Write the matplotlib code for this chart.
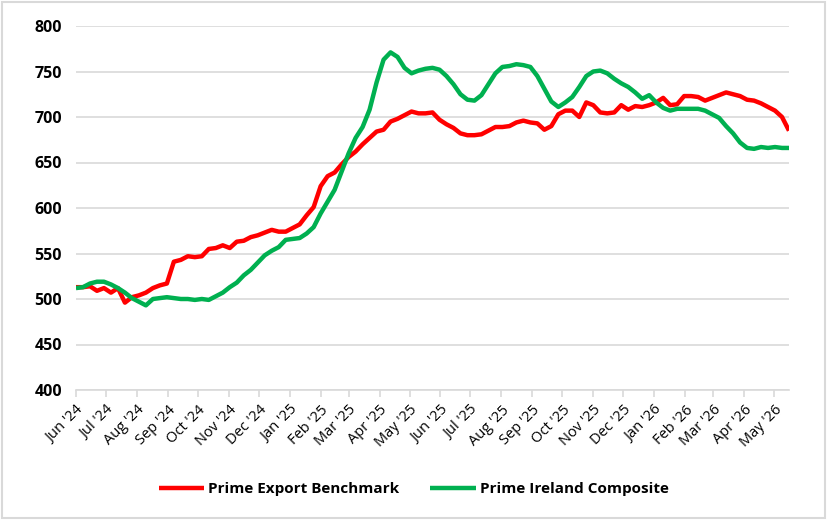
import matplotlib
matplotlib.use("Agg")
import matplotlib.pyplot as plt
import matplotlib.dates as mdates
import numpy as np
import pandas as pd
from matplotlib.patches import Rectangle

dates = pd.date_range("2024-06-01", periods=103, freq="7D")

export_benchmark = [
    513, 513, 514, 509, 512, 507, 512, 496, 502, 504,
    507, 512, 515, 517, 541, 543, 547, 546, 547, 555,
    556, 559, 556, 563, 564, 568, 570, 573, 576, 574,
    574, 578, 582, 592, 601, 624, 635, 639, 648, 656,
    662, 670, 677, 684, 686, 695, 698, 702, 706, 704,
    704, 705, 697, 692, 688, 682, 680, 680, 681, 685,
    689, 689, 690, 694, 696, 694, 693, 686, 690, 703,
    707, 707, 700, 716, 713, 705, 704, 705, 713, 708,
    712, 711, 713, 716, 721, 713, 714, 723, 723, 722,
    718, 721, 724, 727, 725, 723, 719, 718, 715, 711,
    707, 700, 685,
]
ireland_composite = [
    512, 513, 517, 519, 519, 516, 512, 507, 501, 497,
    493, 500, 501, 502, 501, 500, 500, 499, 500, 499,
    503, 507, 513, 518, 526, 532, 540, 548, 553, 557,
    565, 566, 567, 572, 579, 594, 607, 620, 640, 660,
    677, 689, 708, 738, 763, 771, 766, 754, 748, 751,
    753, 754, 752, 745, 736, 725, 719, 718, 724, 736,
    748, 755, 756, 758, 757, 755, 745, 731, 717, 711,
    716, 722, 733, 745, 750, 751, 748, 742, 737, 733,
    727, 720, 724, 716, 710, 707, 709, 709, 709, 709,
    707, 703, 699, 690, 682, 672, 666, 665, 667, 666,
    667, 666, 666,
]
series_names = ["Prime Export Benchmark", "Prime Ireland Composite"]
series_colors = ["#FF0000", "#00B050"]
yticks = [400, 450, 500, 550, 600, 650, 700, 750, 800]
month_ticks = pd.date_range("2024-06-01", "2026-05-01", freq="MS")
month_labels = [d.strftime("%b '%y") for d in month_ticks]

W, H = 827, 520
fig = plt.figure(figsize=(W / 100, H / 100), dpi=100)
ax = fig.add_axes([76 / W, 1 - 390 / H, (789 - 76) / W, (390 - 26) / H])

for vals, name, col in zip([export_benchmark, ireland_composite], series_names, series_colors):
    ax.plot(dates, vals, color=col, lw=3.2, label=name, solid_joinstyle="round", solid_capstyle="butt")

ax.set_ylim(400, 800)
ax.set_yticks(yticks)
ax.set_xlim(pd.Timestamp("2024-06-01"), dates[-1])
ax.set_xticks(month_ticks)
ax.set_xticklabels(month_labels, rotation=45, ha="right", va="top", rotation_mode="anchor",
                   fontsize=10.5, family="Open Sans")
for lab in ax.get_yticklabels():
    lab.set_fontweight("bold")
    lab.set_fontsize(11.5)
    lab.set_family("Open Sans")

ax.grid(axis="y", color="#D9D9D9", lw=1.2)
ax.set_axisbelow(True)
for s in ["top", "right", "left"]:
    ax.spines[s].set_visible(False)
ax.spines["bottom"].set_color("#D9D9D9")
ax.spines["bottom"].set_linewidth(1.2)
ax.tick_params(axis="y", length=0, pad=10)
ax.tick_params(axis="x", length=5, color="#D9D9D9", width=1.2, pad=4, direction="out")

leg = fig.legend(loc="center", bbox_to_anchor=(0.5, 1 - 489 / H), ncol=2, frameon=False,
                 prop={"weight": "bold", "size": 11, "family": "Open Sans"},
                 handlelength=3.0, handletextpad=0.25, columnspacing=2.0)

fig.patches.append(Rectangle((0.002, 0.003), 0.995, 0.994, transform=fig.transFigure,
                             fill=False, edgecolor="#D9D9D9", lw=1.5))
fig.savefig("out.png", dpi=100)
